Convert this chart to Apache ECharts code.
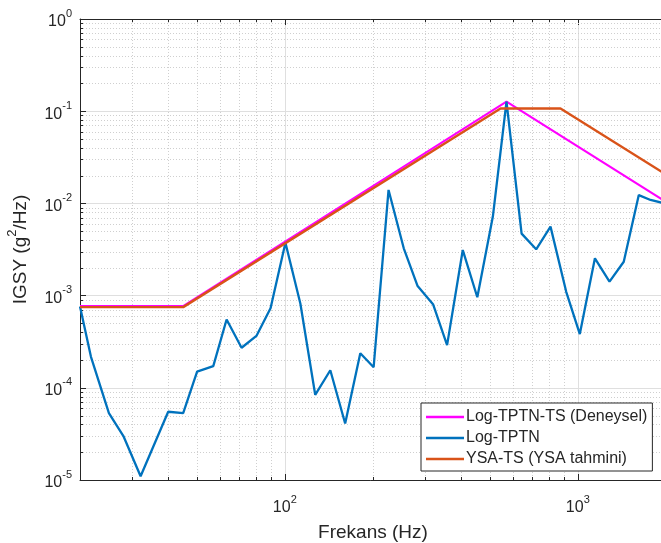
<!DOCTYPE html>
<html>
<head>
<meta charset="utf-8">
<script src="https://cdn.jsdelivr.net/npm/echarts@6/dist/echarts.min.js"></script>
<style>
html,body{margin:0;padding:0;background:#fff;}
#chart{width:661px;height:543px;}
</style>
</head>
<body>
<div id="chart"></div>
<script>
// ---- data ----
const seriesNames = ['Log-TPTN-TS (Deneysel)', 'Log-TPTN', 'YSA-TS (YSA tahmini)'];
const deneyselFreq = [20, 45, 571, 2000];
const deneyselVal  = [7.7e-4, 7.7e-4, 0.127, 1.04e-2];
const tptnFreq = [20, 21.8, 25.1, 28.2, 32.2, 40, 45, 50.2, 57, 63.3, 71.2, 80, 89.4, 100.5, 113, 127, 143, 160.7, 181, 201, 226, 254.7, 284, 321, 358, 405, 454, 513, 571, 643, 721, 807, 913, 1016, 1144, 1283, 1435, 1615, 1771, 2000];
const tptnVal  = [7.6e-4, 2.17e-4, 5.3e-5, 2.95e-5, 1.1e-5, 5.5e-5, 5.3e-5, 1.5e-4, 1.72e-4, 5.5e-4, 2.72e-4, 3.65e-4, 7.3e-4, 3.75e-3, 8.2e-4, 8.4e-5, 1.55e-4, 4.1e-5, 2.37e-4, 1.67e-4, 1.4e-2, 3.26e-3, 1.27e-3, 8.0e-4, 2.9e-4, 3.12e-3, 9.6e-4, 7.2e-3, 0.127, 4.7e-3, 3.18e-3, 5.6e-3, 1.1e-3, 3.83e-4, 2.54e-3, 1.42e-3, 2.33e-3, 1.23e-2, 1.09e-2, 0.99e-2];
const ysaFreq = [20, 45, 545, 873, 2000];
const ysaVal  = [7.5e-4, 7.5e-4, 0.107, 0.107, 0.0206];
const xMin = 20, xMax = 2000, yMin = 1e-5, yMax = 1;
const xMinorTicks = [30, 40, 50, 60, 70, 80, 90, 200, 300, 400, 500, 600, 700, 800, 900];
const yMinorTicks = [];
[1e-5, 1e-4, 1e-3, 1e-2, 1e-1].forEach(d => { for (let k = 2; k <= 9; k++) yMinorTicks.push(+(k * d).toPrecision(3)); });
const xLabel = 'Frekans (Hz)';
const yLabelParts = ['IGSY (g', '2', '/Hz)'];

// ---- styling ----
const FONT = "'Liberation Sans', Arial, Helvetica, sans-serif";
const TXT = '#262626';
const colors = ['#FF00FF', '#0072BD', '#D95319'];

function pow10Label(v) {
  const e = Math.log10(v);
  if (Math.abs(e - Math.round(e)) > 1e-6) return '';
  return '{b|10}{s|' + Math.round(e) + '}';
}
const tickRich = {
  b: {fontSize: 16, fontFamily: FONT, color: TXT, lineHeight: 22, verticalAlign: 'bottom'},
  s: {fontSize: 11, fontFamily: FONT, color: TXT, lineHeight: 22, verticalAlign: 'top'}
};
const snap = v => Math.round(v) + 0.5;

const chart = echarts.init(document.getElementById('chart'), null, {renderer: 'canvas'});
chart.setOption({
  backgroundColor: '#fff',
  animation: false,
  grid: {left: 80, top: 19, bottom: 63, right: -5, containLabel: false, outerBoundsMode: 'none'},
  legend: {
    data: seriesNames,
    orient: 'vertical',
    left: 421, top: 403,
    icon: 'rect',
    itemWidth: 38, itemHeight: 2.5, itemGap: 5,
    padding: [6, 5, 4, 5],
    backgroundColor: '#fff',
    borderColor: TXT, borderWidth: 1,
    textStyle: {fontSize: 16, fontFamily: FONT, color: TXT, lineHeight: 16, padding: [0, 0, 0, -3]}
  },
  xAxis: [{
    type: 'log', logBase: 10, min: xMin, max: xMax,
    name: xLabel, nameLocation: 'middle', nameGap: 43,
    nameTextStyle: {fontSize: 19, fontFamily: FONT, color: TXT},
    axisLine: {show: true, lineStyle: {color: TXT, width: 1}},
    axisTick: {show: true, inside: true, length: 6, lineStyle: {color: TXT}},
    axisLabel: {formatter: pow10Label, rich: tickRich, margin: 14, showMinLabel: false, showMaxLabel: false},
    splitLine: {show: true, lineStyle: {color: '#dfdfdf', width: 1}},
    minorTick: {show: false}, minorSplitLine: {show: false}
  }, {
    type: 'log', logBase: 10, min: xMin, max: xMax, position: 'top',
    axisLine: {show: true, lineStyle: {color: TXT, width: 1}},
    axisTick: {show: true, inside: true, length: 6, lineStyle: {color: TXT}},
    axisLabel: {show: false}, splitLine: {show: false}
  }],
  yAxis: [{
    type: 'log', logBase: 10, min: yMin, max: yMax,
    name: '{a|' + yLabelParts[0] + '}{s|' + yLabelParts[1] + '}{a|' + yLabelParts[2] + '}',
    nameLocation: 'middle', nameGap: 50, nameRotate: 90,
    nameTextStyle: {
      rich: {
        a: {fontSize: 19, fontFamily: FONT, color: TXT, lineHeight: 24, verticalAlign: 'bottom'},
        s: {fontSize: 13, fontFamily: FONT, color: TXT, lineHeight: 24, verticalAlign: 'top'}
      }
    },
    axisLine: {show: true, lineStyle: {color: TXT, width: 1}},
    axisTick: {show: true, inside: true, length: 6, lineStyle: {color: TXT}},
    axisLabel: {formatter: pow10Label, rich: tickRich, margin: 8},
    splitLine: {show: true, lineStyle: {color: '#dfdfdf', width: 1}}
  }],
  series: [
    {
      type: 'custom', name: 'xminor', z: 1, silent: true, clip: false,
      data: xMinorTicks.map(v => [v, yMin]),
      renderItem: (params, api) => {
        const v = api.value(0);
        const p0 = api.coord([v, yMin]);
        const p1 = api.coord([v, yMax]);
        const x = snap(p0[0]);
        return {type: 'group', children: [
          {type: 'line', shape: {x1: x, y1: p1[1], x2: x, y2: p0[1]}, style: {stroke: '#cfcfcf', lineWidth: 1, lineDash: [1, 2]}},
          {type: 'line', shape: {x1: x, y1: p0[1], x2: x, y2: p0[1] - 3}, style: {stroke: TXT, lineWidth: 1}},
          {type: 'line', shape: {x1: x, y1: p1[1], x2: x, y2: p1[1] + 3}, style: {stroke: TXT, lineWidth: 1}}
        ]};
      }
    },
    {
      type: 'custom', name: 'yminor', z: 1, silent: true, clip: false,
      data: yMinorTicks.map(v => [xMin, v]),
      renderItem: (params, api) => {
        const v = api.value(1);
        const p0 = api.coord([xMin, v]);
        const p1 = api.coord([xMax, v]);
        const y = snap(p0[1]);
        return {type: 'group', children: [
          {type: 'line', shape: {x1: p0[0], y1: y, x2: p1[0], y2: y}, style: {stroke: '#cfcfcf', lineWidth: 1, lineDash: [1, 2]}},
          {type: 'line', shape: {x1: p0[0], y1: y, x2: p0[0] + 3, y2: y}, style: {stroke: TXT, lineWidth: 1}}
        ]};
      }
    },
    {
      name: seriesNames[0], type: 'line', z: 3, symbol: 'none', showSymbol: false,
      data: deneyselFreq.map((f, i) => [f, deneyselVal[i]]),
      lineStyle: {color: colors[0], width: 2.2}, itemStyle: {color: colors[0]}
    },
    {
      name: seriesNames[1], type: 'line', z: 3, symbol: 'none', showSymbol: false,
      data: tptnFreq.map((f, i) => [f, tptnVal[i]]),
      lineStyle: {color: colors[1], width: 2.3}, itemStyle: {color: colors[1]}
    },
    {
      name: seriesNames[2], type: 'line', z: 3, symbol: 'none', showSymbol: false,
      data: ysaFreq.map((f, i) => [f, ysaVal[i]]),
      lineStyle: {color: colors[2], width: 2.4}, itemStyle: {color: colors[2]}
    }
  ]
});
</script>
</body>
</html>
